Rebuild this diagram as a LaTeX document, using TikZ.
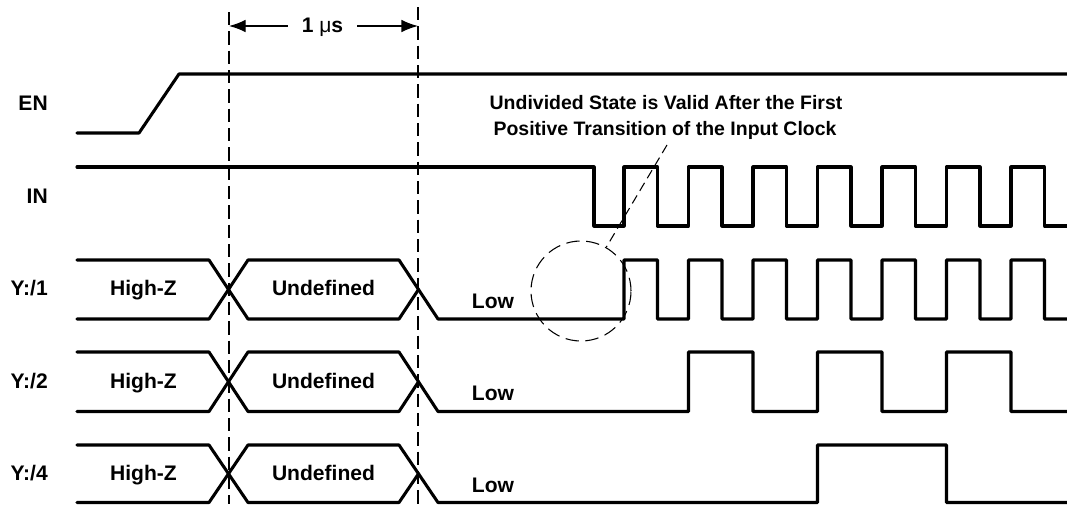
\documentclass[tikz,border=0pt]{standalone}
\usepackage{fontspec}
\setmainfont{Liberation Sans}
\usetikzlibrary{arrows.meta}
\begin{document}
\begin{tikzpicture}[x=0.75pt,y=-0.75pt,
  sig/.style={line width=2.3pt,line cap=round,line join=round},
  guide/.style={line width=0.8pt,dash pattern=on 10pt off 4.5pt},
  leader/.style={line width=0.8pt,dash pattern=on 7pt off 4pt},
  lbl/.style={font=\bfseries\fontsize{15.8}{18}\selectfont,inner sep=0pt},
  note/.style={font=\bfseries\fontsize{14.6}{17}\selectfont,inner sep=0pt},
  dim/.style={line width=1pt,-{Latex[length=12.5pt,width=9.5pt]}},
]
\useasboundingbox (0,0) rectangle (1067,504);

% signal names
\node[lbl,anchor=base east] (en) at (48,110) {EN};
\node[lbl,anchor=base east] (in) at (48,203) {IN};
\node[lbl,anchor=base east] (y1) at (48,295) {Y:/1};
\node[lbl,anchor=base east] (y2) at (48,388) {Y:/2};
\node[lbl,anchor=base east] (y4) at (48,480) {Y:/4};

% dashed reference lines
\coordinate (d1t) at (229,12);
\coordinate (d1b) at (229,504);
\coordinate (d2t) at (418,7);
\coordinate (d2b) at (418,504);
\draw[guide] (d1t) -- (d1b);
\draw[guide] (d2t) -- (d2b);

% 1 us dimension
\coordinate (a1) at (229,26);
\coordinate (a2) at (418,26);
\node[lbl,anchor=base,inner xsep=10.5pt] (us) at (322.5,32) {1 {\mdseries μ}s};
\draw[dim] (us.west |- a1) -- (a1);
\draw[dim] (us.east |- a2) -- (a2);

% EN
\draw[sig] (77,133) -- (139,133) -- (179,74) -- (1067,74);

% IN
\draw[sig] (77,167) -- (594,167) -- (594,226)
  foreach \k in {0,...,6} { -- ({624+64.5*\k},226) -- ({624+64.5*\k},167)
    -- ({657.5+64.5*\k},167) -- ({657.5+64.5*\k},226) } -- (1067,226);

% Y:/1
\draw[sig] (77,260) -- (209,260) -- (248,319) -- (399,319) -- (418.5,289.5);
\draw[sig] (77,319) -- (209,319) -- (248,260) -- (399,260) -- (438,319)
  foreach \k in {0,...,6} { -- ({624+64.5*\k},319) -- ({624+64.5*\k},260)
    -- ({657.5+64.5*\k},260) -- ({657.5+64.5*\k},319) } -- (1067,319);

% Y:/2
\draw[sig] (77,352) -- (209,352) -- (248,411.5) -- (399,411.5) -- (418.5,381.75);
\draw[sig] (77,411.5) -- (209,411.5) -- (248,352) -- (399,352) -- (438,411.5)
  foreach \k in {0,1,2} { -- ({688.5+129*\k},411.5) -- ({688.5+129*\k},352)
    -- ({753+129*\k},352) -- ({753+129*\k},411.5) } -- (1067,411.5);

% Y:/4
\draw[sig] (77,445) -- (209,445) -- (248,502.5) -- (399,502.5) -- (418.5,473.75);
\draw[sig] (77,502.5) -- (209,502.5) -- (248,445) -- (399,445) -- (438,502.5)
  -- (817.5,502.5) -- (817.5,445) -- (946.5,445) -- (946.5,502.5) -- (1067,502.5);

% state labels
\node[lbl,anchor=base] (hz1) at (143.5,295) {High-Z};
\node[lbl,anchor=base] (hz2) at (143.5,388) {High-Z};
\node[lbl,anchor=base] (hz4) at (143.5,480) {High-Z};
\node[lbl,anchor=base] (ud1) at (323.5,295) {Undefined};
\node[lbl,anchor=base] (ud2) at (323.5,388) {Undefined};
\node[lbl,anchor=base] (ud4) at (323.5,480) {Undefined};
\node[lbl,anchor=base] (lo1) at (493,308) {Low};
\node[lbl,anchor=base] (lo2) at (493,400) {Low};
\node[lbl,anchor=base] (lo4) at (493,492) {Low};

% annotation
\node[note,anchor=base] (t1) at (666,109) {Undivided State is Valid After the First};
\node[note,anchor=base] (t2) at (665,135) {Positive Transition of the Input Clock};
\node[circle,draw,leader,dash pattern=on 10pt off 5pt,minimum size=75pt,inner sep=0pt] (ring) at (581,291) {};
\coordinate (lead) at (667,145);
\draw[leader] (lead) -- (ring.60);
\end{tikzpicture}
\end{document}
